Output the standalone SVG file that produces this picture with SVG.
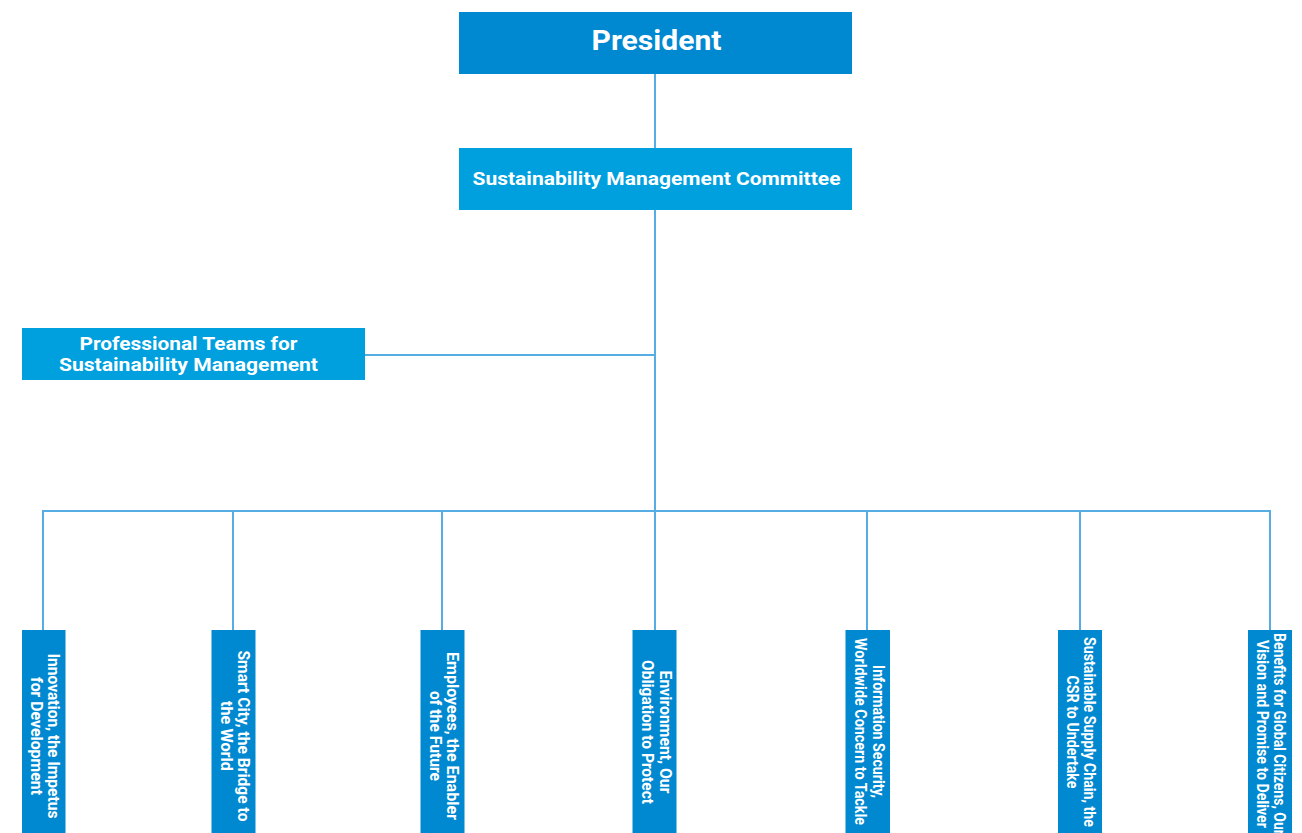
<svg xmlns="http://www.w3.org/2000/svg" width="1302" height="833" viewBox="0 0 1302 833">
<style>
.dark{fill:#0088d0}
.light{fill:#00a0df}
.t{font-family:Roboto,"Liberation Sans",sans-serif;font-weight:bold;fill:#ffffff;text-anchor:middle}
.v{font-size:16.5px}
.conn{stroke:#55ade4;stroke-width:2;fill:none}
</style>
<rect width="1302" height="833" fill="#ffffff"/>
<g id="connectors">
<line class="conn" x1="655" y1="74" x2="655" y2="148"/>
<line class="conn" x1="655" y1="210" x2="655" y2="630"/>
<line class="conn" x1="365" y1="355" x2="655" y2="355"/>
<line class="conn" x1="42" y1="511" x2="1271" y2="511"/>
<line class="conn" x1="43" y1="511" x2="43" y2="630"/>
<line class="conn" x1="233" y1="511" x2="233" y2="630"/>
<line class="conn" x1="442" y1="511" x2="442" y2="630"/>
<line class="conn" x1="867" y1="511" x2="867" y2="630"/>
<line class="conn" x1="1080" y1="511" x2="1080" y2="630"/>
<line class="conn" x1="1270" y1="511" x2="1270" y2="630"/>
</g>
<g id="president">
<rect class="dark" x="459" y="12" width="393" height="62"/>
<text class="t" x="656.5" y="50" font-size="28" textLength="130" lengthAdjust="spacingAndGlyphs">President</text>
</g>
<g id="committee">
<rect class="light" x="459" y="148" width="393" height="62"/>
<text class="t" x="656.5" y="185" font-size="19" textLength="368" lengthAdjust="spacingAndGlyphs">Sustainability Management Committee</text>
</g>
<g id="professional">
<rect class="light" x="22" y="328" width="343" height="52"/>
<text class="t" x="188.5" y="349.5" font-size="18" textLength="218" lengthAdjust="spacingAndGlyphs">Professional Teams for</text>
<text class="t" x="188.5" y="370.5" font-size="18" textLength="259" lengthAdjust="spacingAndGlyphs">Sustainability Management</text>
</g>
<g id="innovation">
<rect class="dark" x="22" y="630" width="43.5" height="210"/>
<text class="t v" transform="translate(48,736) rotate(90)" textLength="165" lengthAdjust="spacingAndGlyphs">Innovation, the Impetus</text>
<text class="t v" transform="translate(30.5,736) rotate(90)" textLength="118" lengthAdjust="spacingAndGlyphs">for Development</text>
</g>
<g id="smartcity">
<rect class="dark" x="211.5" y="630" width="44" height="210"/>
<text class="t v" transform="translate(238,736) rotate(90)" textLength="171" lengthAdjust="spacingAndGlyphs">Smart City, the Bridge to</text>
<text class="t v" transform="translate(220.5,736) rotate(90)" textLength="70" lengthAdjust="spacingAndGlyphs">the World</text>
</g>
<g id="employees">
<rect class="dark" x="420.5" y="630" width="44" height="210"/>
<text class="t v" transform="translate(447,736) rotate(90)" textLength="168" lengthAdjust="spacingAndGlyphs">Employees, the Enabler</text>
<text class="t v" transform="translate(429.5,736) rotate(90)" textLength="90" lengthAdjust="spacingAndGlyphs">of the Future</text>
</g>
<g id="environment">
<rect class="dark" x="632.5" y="630" width="44" height="210"/>
<text class="t v" transform="translate(659.5,732) rotate(90)" textLength="123" lengthAdjust="spacingAndGlyphs">Environment, Our</text>
<text class="t v" transform="translate(642,732) rotate(90)" textLength="144" lengthAdjust="spacingAndGlyphs">Obligation to Protect</text>
</g>
<g id="infosec">
<rect class="dark" x="845.5" y="630" width="44.5" height="210"/>
<text class="t v" transform="translate(872.5,731.5) rotate(90)" textLength="133" lengthAdjust="spacingAndGlyphs">Information Security,</text>
<text class="t v" transform="translate(855,731.5) rotate(90)" textLength="187" lengthAdjust="spacingAndGlyphs">Worldwide Concern to Tackle</text>
</g>
<g id="supplychain">
<rect class="dark" x="1058" y="630" width="44" height="210"/>
<text class="t v" transform="translate(1084,732) rotate(90)" textLength="190" lengthAdjust="spacingAndGlyphs">Sustainable Supply Chain, the</text>
<text class="t v" transform="translate(1066.5,732) rotate(90)" textLength="113" lengthAdjust="spacingAndGlyphs">CSR to Undertake</text>
</g>
<g id="benefits">
<rect class="dark" x="1248" y="630" width="44" height="210"/>
<text class="t v" transform="translate(1274,734) rotate(90)" textLength="202" lengthAdjust="spacingAndGlyphs">Benefits for Global Citizens, Our</text>
<text class="t v" transform="translate(1256.5,734) rotate(90)" textLength="188" lengthAdjust="spacingAndGlyphs">Vision and Promise to Deliver</text>
</g>
</svg>
